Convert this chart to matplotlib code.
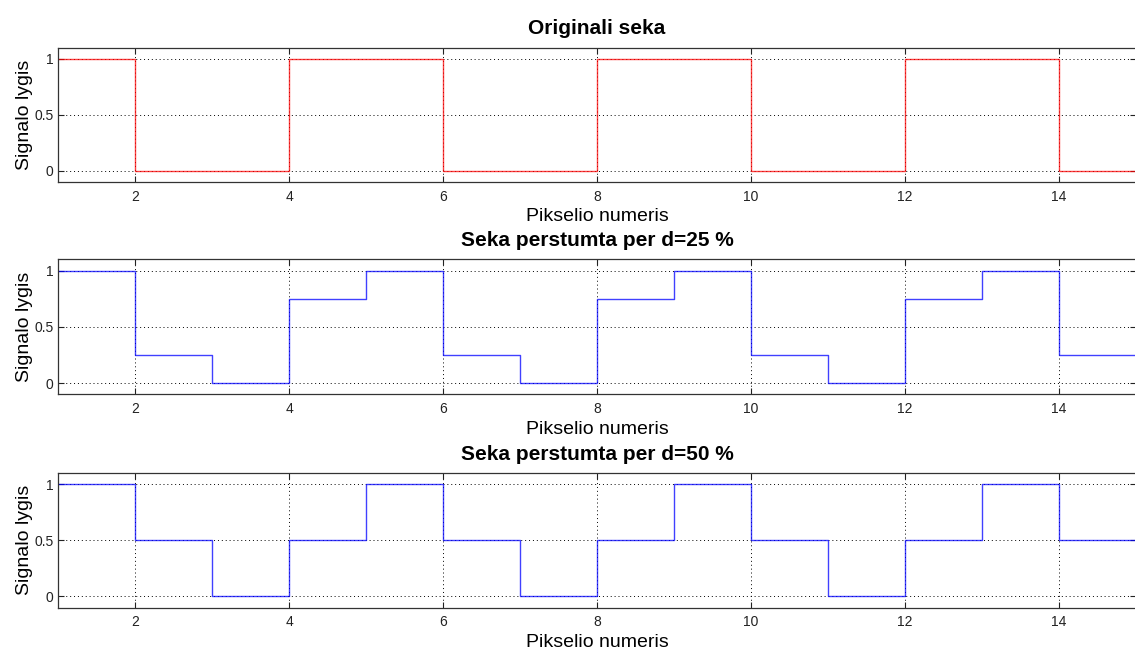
import matplotlib
matplotlib.use('Agg')
import matplotlib.pyplot as plt
import numpy as np

plt.rcParams['font.family'] = ['Liberation Sans', 'DejaVu Sans']

# pikselio numeriai ir signalo reiksmes
pikseliai = np.arange(1, 16)
originali = [1, 0, 0, 1, 1, 0, 0, 1, 1, 0, 0, 1, 1, 0, 0]
perstumta_25 = [1, 0.25, 0, 0.75, 1, 0.25, 0, 0.75, 1, 0.25, 0, 0.75, 1, 0.25, 0]
perstumta_50 = [1, 0.5, 0, 0.5, 1, 0.5, 0, 0.5, 1, 0.5, 0, 0.5, 1, 0.5, 0]

titles = ["Originali seka", "Seka perstumta per d=25 %", "Seka perstumta per d=50 %"]
series = [originali, perstumta_25, perstumta_50]
colors = ["#ff0000", "#0000ff", "#0000ff"]
xticks = [2, 4, 6, 8, 10, 12, 14]
yticks = [0, 0.5, 1]

fig = plt.figure(figsize=(11.35, 6.49), dpi=100)
# [left, bottom, width, height]
positions = [[0.0515, 0.7196, 0.949, 0.2072],
             [0.0515, 0.3922, 0.949, 0.2080],
             [0.0515, 0.0639, 0.949, 0.2072]]

for pos, title, y, c in zip(positions, titles, series, colors):
    ax = fig.add_axes(pos)
    ax.step(pikseliai, y, where='post', color=c, lw=1.0, alpha=0.75)
    ax.set_xlim(1, 15)
    ax.set_ylim(-0.1, 1.1)
    ax.set_xticks(xticks)
    ax.set_yticks(yticks)
    ax.set_yticklabels(["0", "0.5", "1"])
    ax.tick_params(direction='in', length=4, width=0.8, labelsize=10,
                   top=True, right=True, colors='#222222')
    ax.tick_params(axis='x', pad=5.5)
    ax.tick_params(axis='y', pad=3.5)
    ax.grid(True, color='black', linestyle=(0, (1, 3)), lw=0.7)
    for s in ax.spines.values():
        s.set_color('#333333')
        s.set_linewidth(0.9)
    ax.set_title(title, fontsize=15, fontweight='bold', pad=9.5)
    ax.set_xlabel("Pikselio numeris", fontsize=14, labelpad=3.5)
    ax.set_ylabel("Signalo lygis", fontsize=14, labelpad=1)

fig.savefig("out.png", dpi=100)
